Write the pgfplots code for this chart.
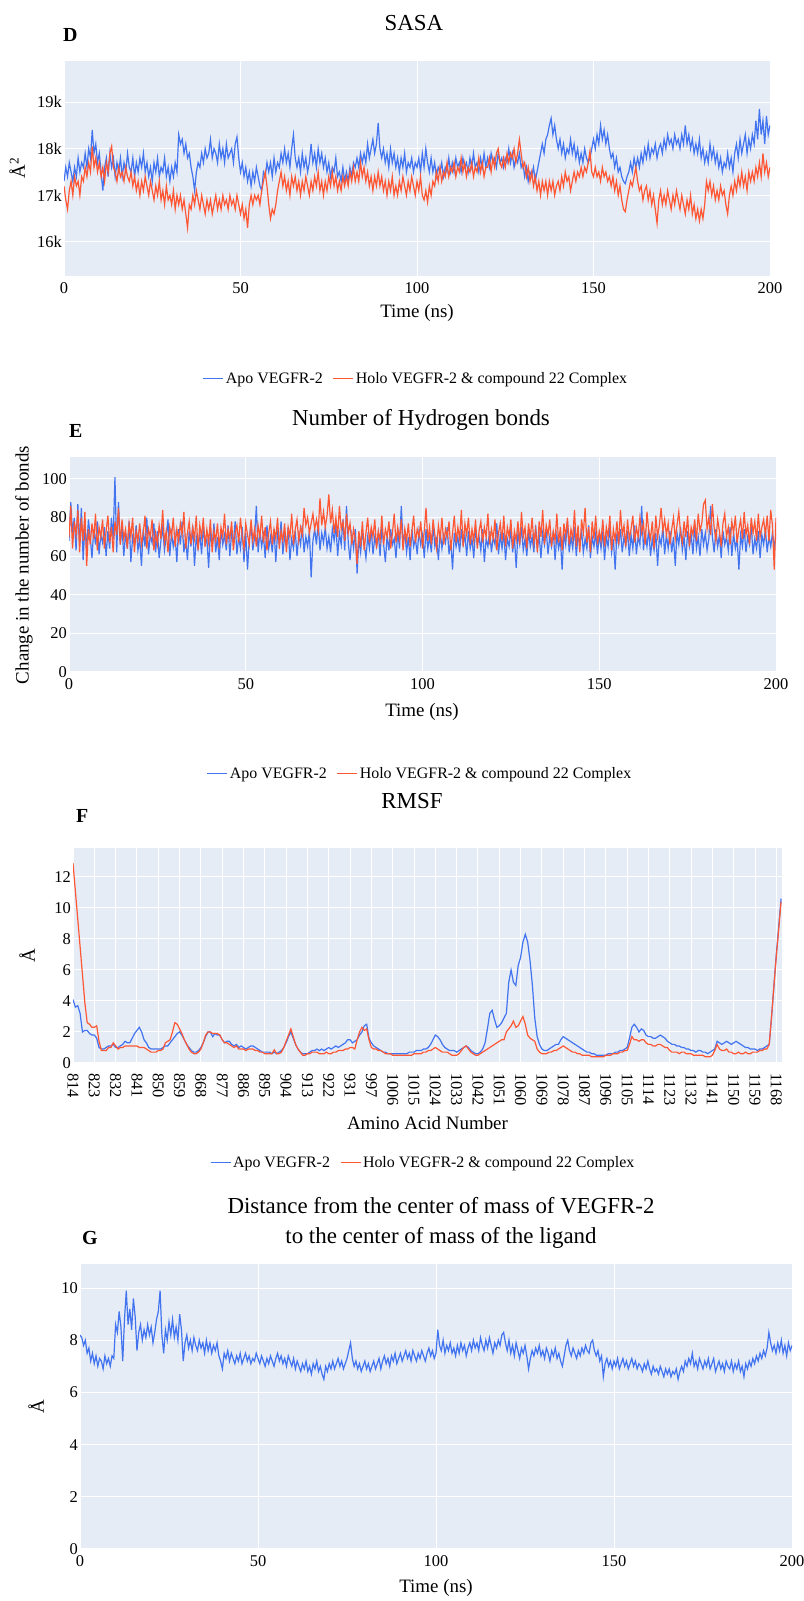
\documentclass[border=0pt]{standalone}
\usepackage{pgfplots}
\pgfplotsset{compat=1.18}
\usepackage{pgfplotstable}
\usepackage{fontspec}
\setmainfont{Liberation Serif}
\definecolor{apo}{RGB}{66,116,240}
\definecolor{holo}{RGB}{255,87,51}
\definecolor{plotbg}{RGB}{229,236,246}

% SASA (k A^2), t = 0..200 ns, step 0.5
\pgfplotstableread{
apo holo
17.3 17.2
17.6 16.9
17.4 16.7
17.7 17.1
17.5 17.3
17.3 17.0
17.6 17.4
17.4 17.2
17.8 17.3
17.5 17.0
17.7 17.4
17.6 17.3
17.9 17.6
17.6 17.4
18.0 17.7
17.8 17.5
18.4 18.05
17.9 17.6
18.1 17.8
17.7 17.5
17.9 17.7
17.5 17.4
17.1 17.6
17.6 17.3
17.8 17.7
17.4 17.5
17.9 17.9
17.6 18.05
17.8 17.6
17.4 17.5
17.7 17.3
17.5 17.6
17.8 17.4
17.4 17.5
17.7 17.3
17.5 17.6
17.9 17.4
17.6 17.3
17.5 17.5
17.8 17.2
17.4 17.4
17.7 17.1
17.5 17.3
17.8 17.0
17.6 17.3
17.9 17.1
17.5 17.4
17.7 17.2
17.4 17.0
17.6 17.3
17.3 17.1
17.7 16.9
17.5 17.2
17.8 17.0
17.4 17.3
17.6 16.9
17.5 17.1
17.8 16.8
17.4 17.2
17.6 16.9
17.3 17.0
17.6 16.8
17.4 17.1
17.7 16.7
17.5 17.0
18.3 16.8
18.1 17.0
18.2 16.7
17.9 16.9
18.1 16.6
17.8 16.3
17.9 16.8
17.6 16.7
17.4 17.0
17.1 16.8
17.5 17.1
17.7 16.9
17.6 16.7
17.9 17.0
17.7 16.8
18.0 16.6
17.8 16.9
17.9 16.7
18.2 16.9
17.8 16.6
18.0 16.8
17.9 17.0
17.7 16.7
18.1 16.9
17.8 16.7
18.0 17.0
17.7 16.8
18.1 16.9
17.8 16.7
17.9 17.0
18.0 16.8
17.7 16.9
18.1 16.7
18.25 17.0
17.8 16.8
17.5 16.6
17.7 16.8
17.4 16.5
17.6 16.7
17.3 16.3
17.5 16.8
17.2 17.0
17.5 16.8
17.3 17.0
17.6 16.9
17.4 17.0
17.2 16.8
17.1 17.1
17.5 17.3
17.4 17.5
17.7 17.2
17.5 16.8
17.7 16.5
17.4 16.7
17.8 16.6
17.5 16.8
17.7 17.1
17.6 17.3
17.9 17.5
17.7 17.2
18.0 17.4
17.7 17.1
17.9 17.3
17.6 17.0
18.0 17.4
18.3 17.2
17.8 17.4
17.6 17.1
17.8 17.3
17.5 17.0
17.9 17.3
17.6 17.1
17.8 17.4
17.5 17.2
17.7 17.0
18.1 17.3
17.7 17.1
17.9 17.4
17.6 17.2
18.0 17.5
17.7 17.1
17.9 17.3
17.6 17.0
17.8 17.3
17.5 17.1
17.7 17.4
17.4 17.2
17.6 17.5
17.5 17.2
17.8 17.4
17.4 17.1
17.5 17.3
17.3 17.1
17.6 17.4
17.3 17.2
17.5 17.4
17.3 17.2
17.6 17.5
17.4 17.3
17.7 17.6
17.6 17.3
17.8 17.5
17.6 17.3
17.9 17.7
17.7 17.4
17.9 17.6
17.7 17.3
18.1 17.5
17.8 17.2
18.0 17.4
18.2 17.1
17.9 17.4
18.1 17.2
18.55 17.5
18.0 17.2
17.8 17.4
18.0 17.1
17.7 17.3
17.9 17.0
17.6 17.3
18.0 17.1
17.7 17.4
17.9 17.0
17.6 17.2
17.8 17.0
17.5 17.3
17.8 17.1
17.6 17.4
17.9 17.2
17.5 17.0
17.7 17.3
17.6 17.1
17.8 17.4
17.5 17.2
17.7 17.0
17.6 17.3
17.8 17.1
17.5 17.4
17.9 17.0
17.6 16.9
18.0 17.1
17.7 16.85
17.5 17.2
17.8 17.0
17.5 17.3
17.7 17.2
17.4 17.5
17.6 17.3
17.5 17.6
17.7 17.3
17.4 17.5
17.6 17.4
17.5 17.7
17.8 17.4
17.5 17.6
17.7 17.5
17.5 17.7
17.8 17.4
17.6 17.6
17.7 17.5
17.5 17.8
17.8 17.5
17.6 17.7
17.7 17.4
17.5 17.6
17.8 17.5
17.6 17.7
17.9 17.4
17.6 17.6
17.7 17.5
17.5 17.8
17.8 17.5
17.6 17.7
17.9 17.4
17.6 17.6
17.8 17.6
17.6 17.8
17.9 17.5
17.7 17.8
17.8 17.6
17.6 17.9
17.9 18.0
17.7 17.7
17.8 17.6
17.6 17.8
17.8 17.6
17.7 17.9
18.0 17.7
17.7 17.9
17.9 17.8
17.6 18.0
17.8 17.7
17.7 17.9
17.9 18.2
17.6 17.9
17.7 17.6
17.4 17.7
17.6 17.4
17.3 17.6
17.5 17.3
17.4 17.5
17.6 17.2
17.3 17.4
17.5 17.1
17.7 17.3
17.9 17.0
18.1 17.3
17.9 17.1
18.2 17.3
18.3 17.0
18.5 17.3
18.65 17.1
18.3 17.3
18.5 17.0
18.2 17.2
18.0 17.3
18.2 17.1
17.9 17.4
18.1 17.2
17.8 17.5
18.0 17.3
17.9 17.4
18.2 17.1
17.9 17.3
18.1 17.5
17.8 17.3
18.0 17.5
17.7 17.4
17.9 17.6
17.7 17.4
18.0 17.6
17.8 17.5
17.7 17.7
17.8 17.95
18.0 17.5
18.2 17.4
18.0 17.6
18.3 17.4
18.1 17.5
18.5 17.3
18.2 17.6
18.4 17.4
18.1 17.5
18.3 17.3
18.0 17.4
17.8 17.2
17.9 17.4
17.6 17.1
17.8 17.3
17.5 17.0
17.6 17.2
17.4 16.9
17.3 16.7
17.25 16.65
17.4 16.9
17.5 17.1
17.7 17.3
17.5 17.2
17.8 17.4
17.6 17.6
17.8 17.3
17.6 17.1
17.9 17.2
17.7 16.9
18.0 17.1
17.8 17.2
18.1 16.9
17.8 17.1
18.0 16.8
17.9 17.0
18.1 16.7
17.8 16.4
18.0 16.9
18.1 17.1
17.9 16.8
18.2 17.0
18.0 16.8
18.3 17.1
18.1 16.9
18.2 16.7
18.0 17.0
18.3 16.8
18.1 17.1
18.2 16.9
18.0 16.7
18.3 17.0
18.1 16.8
18.5 16.6
18.1 16.9
18.3 16.7
18.0 17.0
18.2 16.6
17.9 16.8
18.1 16.5
17.9 16.7
18.2 16.45
17.8 16.7
18.0 16.5
17.7 16.8
17.9 17.3
17.7 17.1
18.1 17.3
17.8 17.0
18.0 17.2
17.7 16.9
17.9 17.1
17.6 16.9
17.8 17.2
17.5 17.0
17.7 17.1
17.6 16.8
17.9 16.6
17.6 17.0
17.8 17.2
17.5 17.0
17.9 17.3
18.1 17.1
17.8 17.4
18.2 17.2
17.9 17.5
18.1 17.2
18.3 17.4
17.9 17.1
18.2 17.5
18.0 17.3
18.3 17.5
18.1 17.3
18.6 17.6
18.2 17.4
18.85 17.7
18.3 17.4
18.6 17.9
18.1 17.5
18.7 17.7
18.3 17.4
18.5 17.6
}\tabD

% Hydrogen bonds, t = 0..200 ns, step 0.5
\pgfplotstableread{
apo holo
68 70
88 86
72 64
80 78
63 71
87 84
66 62
85 80
58 68
76 83
64 55
79 74
70 66
59 77
74 69
66 82
78 63
61 75
71 70
67 79
75 64
60 73
73 81
64 67
80 75
69 62
101 78
62 71
88 85
66 66
75 79
60 69
72 74
64 64
78 77
57 70
70 80
66 62
76 73
63 68
69 77
55 66
74 72
65 81
80 64
61 74
71 70
67 79
77 63
62 72
73 66
59 76
68 69
75 84
63 67
70 73
79 62
60 75
72 70
65 80
71 65
57 74
74 68
66 77
78 71
62 83
69 64
58 72
73 78
65 66
76 75
55 69
70 81
64 63
72 76
61 70
75 80
66 65
69 74
54 67
73 79
65 62
77 73
62 68
70 77
58 64
74 75
66 70
71 82
63 66
76 74
60 69
72 78
67 63
78 72
61 76
70 67
64 80
75 70
57 64
72 77
53 71
69 66
77 79
63 68
70 74
86 65
62 76
73 70
65 81
71 67
59 75
76 63
64 72
70 78
62 66
74 74
57 69
72 80
66 64
78 73
61 68
71 77
65 62
75 75
58 70
69 82
64 66
73 74
60 79
71 68
66 75
76 71
62 85
70 76
65 80
73 72
49 77
68 82
74 74
66 79
78 73
63 90
72 76
67 83
75 75
64 81
70 92
62 77
74 84
68 72
76 80
60 70
72 86
66 74
79 78
63 68
86 82
67 72
58 77
71 66
64 74
74 69
51 56
69 73
62 65
73 78
66 63
59 72
70 80
64 67
74 75
61 70
70 79
65 64
72 73
60 68
75 81
66 66
57 74
71 70
63 78
74 64
66 72
69 82
59 67
73 75
64 69
86 79
67 63
72 74
62 68
70 77
58 65
74 73
65 81
69 67
61 74
73 70
66 78
71 64
59 73
74 85
64 68
70 75
62 66
76 79
65 71
69 64
58 76
73 69
64 80
71 66
67 74
75 70
61 78
68 63
53 72
72 81
65 67
70 75
62 69
74 84
66 65
71 77
60 71
73 80
64 66
69 74
59 68
75 79
66 64
70 73
63 78
74 67
57 75
69 70
65 82
73 66
62 74
70 69
66 79
77 63
61 72
71 77
64 68
72 81
58 65
69 75
65 70
74 79
62 64
70 73
54 68
72 78
66 66
75 83
63 70
69 75
60 64
73 77
65 69
70 80
62 67
76 74
64 62
71 78
59 70
72 84
66 66
74 76
61 71
70 79
65 65
73 73
58 68
71 82
64 67
69 75
53 63
72 77
66 70
78 80
62 66
70 74
64 69
75 84
60 65
71 76
66 62
73 79
62 72
69 85
64 67
76 75
59 62
70 78
65 69
72 81
61 66
71 73
64 68
73 79
58 65
70 75
65 70
75 81
62 63
69 74
53 68
72 78
66 66
74 84
62 71
70 76
65 65
73 79
60 69
71 74
64 81
76 67
61 75
70 70
66 80
86 72
63 77
72 66
65 83
74 73
60 69
69 78
63 64
72 81
55 70
70 76
66 85
75 73
61 79
71 71
64 77
73 66
62 74
70 80
55 69
72 76
66 83
75 72
63 67
70 78
58 70
73 81
65 65
71 75
61 71
76 79
64 68
70 82
60 73
74 77
66 87
72 89
63 74
69 80
86 71
70 87
62 75
74 68
65 79
71 73
59 65
73 77
66 82
70 70
63 75
75 66
60 78
72 72
64 81
69 67
53 74
71 79
65 69
74 83
62 71
70 76
66 66
76 80
61 72
69 78
64 68
73 82
59 70
71 75
66 79
74 71
62 81
70 68
65 84
72 76
64 53
71 80
}\tabE

% RMSF (A), residue index 0..299
\pgfplotstableread{
apo holo
4.1 12.9
3.6 11.1
3.7 9.3
3.2 7.5
2.0 5.7
2.1 3.9
2.1 2.6
1.9 2.5
1.8 2.3
1.8 2.3
1.6 2.4
1.0 1.4
0.9 0.8
0.9 0.8
1.0 0.8
1.1 1.0
1.1 1.0
1.2 1.3
1.0 1.1
1.0 0.9
1.1 1.0
1.2 1.0
1.4 1.1
1.3 1.1
1.3 1.1
1.6 1.1
1.9 1.1
2.1 1.1
2.3 1.0
2.0 1.0
1.5 1.0
1.3 0.9
1.0 0.8
0.9 0.7
0.9 0.7
0.9 0.7
0.9 0.8
0.9 0.8
1.0 0.9
1.1 1.3
1.1 1.4
1.3 1.5
1.5 2.0
1.7 2.6
1.9 2.5
2.0 2.2
1.8 1.9
1.5 1.5
1.2 1.2
1.0 0.9
0.8 0.7
0.7 0.6
0.7 0.6
0.8 0.7
1.0 0.9
1.3 1.3
1.7 1.8
2.0 2.0
2.0 2.0
1.7 1.9
1.9 1.9
1.8 1.9
1.8 1.8
1.5 1.5
1.3 1.3
1.4 1.3
1.4 1.2
1.2 1.1
1.1 1.0
1.2 1.1
1.0 0.9
1.1 0.9
1.0 0.9
0.9 0.8
1.0 0.9
1.1 0.9
1.1 0.9
1.0 0.8
0.9 0.8
0.8 0.7
0.7 0.7
0.7 0.6
0.7 0.6
0.7 0.6
0.6 0.6
0.7 0.85
0.6 0.6
0.7 0.6
0.8 0.7
1.0 1.0
1.3 1.4
1.7 1.8
2.0 2.2
1.6 1.7
1.2 1.2
0.9 0.9
0.7 0.7
0.6 0.5
0.6 0.5
0.6 0.6
0.7 0.6
0.8 0.7
0.8 0.7
0.9 0.7
0.8 0.6
0.9 0.6
0.8 0.6
0.9 0.7
1.0 0.6
0.9 0.6
1.0 0.7
1.1 0.7
1.0 0.8
1.1 0.8
1.2 0.8
1.3 0.9
1.5 0.9
1.5 1.0
1.3 1.0
1.4 0.9
1.5 1.5
1.8 2.0
2.0 2.3
2.4 2.1
2.5 2.2
1.6 1.5
1.3 1.0
1.1 0.9
1.0 0.9
0.9 0.8
0.8 0.8
0.7 0.7
0.7 0.6
0.6 0.6
0.6 0.6
0.6 0.5
0.6 0.5
0.6 0.5
0.6 0.5
0.6 0.5
0.6 0.5
0.6 0.5
0.7 0.5
0.7 0.5
0.7 0.6
0.8 0.6
0.8 0.6
0.8 0.6
0.9 0.7
0.9 0.7
1.0 0.8
1.2 0.8
1.5 0.9
1.8 1.0
1.7 0.9
1.5 0.8
1.2 0.7
1.0 0.7
0.9 0.7
0.8 0.6
0.8 0.5
0.8 0.5
0.7 0.5
0.8 0.6
0.9 0.8
1.0 1.0
1.1 1.1
1.0 0.9
0.8 0.7
0.7 0.6
0.6 0.5
0.6 0.5
0.7 0.6
0.9 0.7
1.3 0.8
2.2 0.9
3.2 1.0
3.4 1.1
2.8 1.2
2.3 1.3
2.4 1.4
2.6 1.5
2.9 1.5
3.2 2.0
5.2 2.2
6.0 2.4
5.2 2.7
5.0 2.3
6.3 2.4
6.8 2.7
7.8 3.0
8.3 2.5
7.8 1.8
6.6 1.6
5.0 1.5
2.9 1.4
1.7 0.9
1.2 0.7
0.9 0.6
0.8 0.6
0.8 0.6
0.9 0.7
1.0 0.7
1.1 0.8
1.2 0.8
1.2 0.9
1.5 1.0
1.7 1.1
1.6 1.0
1.5 0.9
1.4 0.8
1.3 0.7
1.2 0.7
1.1 0.6
1.0 0.6
0.9 0.5
0.8 0.5
0.7 0.5
0.7 0.5
0.6 0.4
0.6 0.4
0.5 0.4
0.5 0.4
0.5 0.4
0.5 0.4
0.5 0.5
0.6 0.5
0.6 0.5
0.6 0.6
0.7 0.6
0.7 0.6
0.8 0.7
0.8 0.7
0.9 0.8
1.0 0.8
1.6 1.2
2.3 1.7
2.5 1.5
2.3 1.5
2.0 1.4
2.2 1.5
2.1 1.5
1.8 1.3
1.7 1.2
1.7 1.2
1.6 1.1
1.6 1.1
1.7 1.2
1.8 1.2
1.7 1.1
1.6 1.0
1.4 1.0
1.3 0.8
1.2 0.7
1.2 0.7
1.1 0.7
1.1 0.6
1.0 0.7
1.0 0.7
0.9 0.6
0.9 0.6
0.8 0.6
0.8 0.5
0.7 0.5
0.8 0.5
0.8 0.5
0.7 0.5
0.7 0.4
0.6 0.4
0.7 0.4
0.8 0.5
0.9 0.8
1.4 1.2
1.3 0.9
1.2 0.8
1.3 0.8
1.4 0.9
1.3 0.7
1.2 0.7
1.3 0.6
1.4 0.6
1.3 0.7
1.2 0.6
1.1 0.6
1.0 0.7
1.0 0.6
0.9 0.6
0.9 0.7
0.9 0.7
0.8 0.7
0.9 0.8
0.9 0.8
1.0 0.9
1.1 0.9
1.2 1.2
3.0 3.0
5.0 5.0
7.0 6.9
8.8 8.6
10.6 10.4
}\tabF

% COM distance (A), t = 0..200 ns, step 0.5
\pgfplotstableread{
d
8.2
8.1
7.8
8.0
7.5
7.7
7.2
7.5
7.1
7.4
7.0
7.3
7.2
6.9
7.4
7.1
7.3
7.0
7.4
7.3
8.6
8.3
9.1
8.5
7.2
8.8
9.9
8.6
9.2
8.4
9.6
8.9
7.6
8.3
8.6
8.0
8.4
8.1
8.6
8.2
8.5
7.9
8.3
8.8
9.1
9.9
8.2
7.5
8.4
8.0
8.7
8.2
8.8
8.1
8.5
8.0
9.0
8.4
7.2
7.9
8.2
7.7
8.0
7.6
8.1
7.8
7.6
8.0
7.7
7.9
7.5
8.0
7.6
7.9
7.5
7.8
7.6
7.9
7.4
7.2
6.9
7.5
7.3
7.6
7.2
7.5
7.3
7.1
7.4
7.2
7.5
7.1
7.3
7.5
7.2
7.4
7.1
7.3
7.2
7.5
7.3
7.1
7.4
7.2
7.0
7.3
7.1
7.4
7.2
7.0
7.3
7.5
7.2
7.4
7.1
7.3
7.0
7.4
7.2
7.0
7.3
6.9
7.2
7.0
6.8
7.1
6.9
7.2
6.8
7.0
6.7
7.1
6.9
7.2
6.8
7.0
6.7
6.5
7.0
6.8
7.1
6.9
7.2
6.9
7.1
7.3
7.0
7.2
6.9
7.1
7.3
7.6
7.9
7.3
7.0
7.2
6.9
7.1
6.8
7.0
7.2
6.9
7.1
6.8
7.0
7.2
6.9
7.1
7.3
6.9
7.2
7.4
7.1
7.3
7.0
7.4
7.2
7.5
7.1
7.3
7.5
7.2
7.4
7.6
7.3
7.5
7.2
7.6
7.4
7.2
7.5
7.3
7.6
7.4
7.2
7.5
7.7
7.4
7.6
7.3
7.5
8.4
7.8
7.6
8.0
7.5
7.8
7.6
7.9
7.5
7.7
7.4
7.8
7.5
7.9
7.6
7.8
7.4
7.7
7.9
7.6
8.0
7.7
7.9
7.6
8.1
7.8
7.6
8.0
7.7
8.1
7.8
7.5
7.9
7.7
8.0
7.8
8.2
8.3
7.9
7.6
8.0
7.5
7.8
7.4
7.9
7.6
7.3
7.7
7.5
7.8
7.4
6.9
7.3
7.6
7.4
7.7
7.5
7.8
7.4
7.6
7.3
7.7
7.5
7.2
7.6
7.4
7.7
7.3
7.5
7.2
7.0
7.4
7.8
8.0
7.6
7.4
7.7
7.5
7.3
7.6
7.4
7.7
7.5
7.8
7.6
7.5
7.9
8.0
7.6
7.4
7.6
7.2
7.4
6.6
7.1
7.3
7.0
7.2
6.9
7.2
7.0
7.3
6.9
7.1
7.3
7.0
7.2
6.9
7.1
7.3
7.0
7.2
6.9
7.1
7.0
6.8
7.1
6.9
7.2
6.9
6.7
7.0
6.8
6.9
6.7
7.0
6.8
6.6
6.9
6.7
6.9
6.6
6.8
6.7
6.9
6.5
6.8
7.0
6.8
7.2
7.0
7.3
7.1
7.5
7.0
7.2
6.9
7.3
7.1
6.9
7.2
7.0
7.3
6.9
7.1
7.3
6.8
7.0
7.2
6.9
7.1
6.8
7.2
7.0
6.9
7.2
6.8
7.1
6.9
7.2
6.8
7.0
6.6
7.1
6.9
7.2
7.0
7.3
7.1
7.4
7.2
7.5
7.3
7.6
7.4
7.7
8.3
7.9
7.6
7.8
7.5
7.9
7.6
8.0
7.5
7.8
7.4
7.9
7.6
7.8
}\tabG

\pgfplotsset{panel/.style={
  scale only axis,
  axis background/.style={fill=plotbg},
  axis line style={draw=none},
  tick style={draw=none},
  major tick length=0pt,
  grid=major,
  major grid style={white, line width=1bp},
  tick label style={font=\fontsize{16.5}{18}\selectfont, inner sep=0pt},
  xticklabel shift=6.5bp,
  yticklabel shift=2bp,
  /pgf/number format/assume math mode=true,
  legend style={draw=none, fill=none, font=\fontsize{16}{18}\selectfont,
    anchor=center, /tikz/every even column/.append style={column sep=8bp}},
  legend columns=2,
  legend image code/.code={\draw[#1, line width=1bp] (0bp,0bp) -- (20bp,0bp);},
}}

\begin{document}
\begin{tikzpicture}[x=1bp,y=1bp]
\useasboundingbox (0bp,0bp) rectangle (804bp,1601bp);

% ---------- D: SASA ----------
\begin{axis}[panel, at={(64bp,1325bp)}, anchor=south west, width=706bp, height=215bp,
  xmin=0, xmax=200, ymin=15.27, ymax=19.88,
  xtick={0,50,100,150,200},
  ytick={16,17,18,19}, yticklabels={16k,17k,18k,19k},
  legend style={at={(0.4986,-0.479)}}]
\addplot[apo, line width=1.2bp] table[x expr=\coordindex*0.5, y=apo] {\tabD};
\addlegendentry{Apo VEGFR-2}
\addplot[holo, line width=1.2bp] table[x expr=\coordindex*0.5, y=holo] {\tabD};
\addlegendentry{Holo VEGFR-2 \& compound 22 Complex}
\end{axis}

% ---------- E: H-bonds ----------
\begin{axis}[panel, at={(69bp,929bp)}, anchor=south west, width=707bp, height=215bp,
  xmin=0, xmax=200, ymin=0, ymax=111.4,
  xtick={0,50,100,150,200}, ytick={0,20,40,60,80,100},
  legend style={at={(0.4965,-0.474)}}]
\addplot[apo, line width=1.2bp] table[x expr=\coordindex*0.5, y=apo] {\tabE};
\addlegendentry{Apo VEGFR-2}
\addplot[holo, line width=1.2bp] table[x expr=\coordindex*0.5, y=holo] {\tabE};
\addlegendentry{Holo VEGFR-2 \& compound 22 Complex}
\end{axis}

% ---------- F: RMSF ----------
\begin{axis}[panel, at={(73bp,538bp)}, anchor=south west, width=709bp, height=215bp,
  xmin=0, xmax=299.4, ymin=0, ymax=13.87,
  xtick={0,9,...,297},
  xticklabels={814,823,832,841,850,859,868,877,886,895,904,913,922,931,997,1006,1015,1024,1033,1042,1051,1060,1069,1078,1087,1096,1105,1114,1123,1132,1141,1150,1159,1168},
  xticklabel style={rotate=-90, anchor=west},
  xticklabel shift=10bp,
  ytick={0,2,4,6,8,10,12},
  legend style={at={(0.494,-0.465)}}]
\addplot[apo, line width=1.2bp] table[x expr=\coordindex, y=apo] {\tabF};
\addlegendentry{Apo VEGFR-2}
\addplot[holo, line width=1.2bp] table[x expr=\coordindex, y=holo] {\tabF};
\addlegendentry{Holo VEGFR-2 \& compound 22 Complex}
\end{axis}

% ---------- G: COM distance ----------
\begin{axis}[panel, at={(80bp,52bp)}, anchor=south west, width=712bp, height=285bp,
  xmin=0, xmax=200, ymin=0, ymax=10.92,
  xtick={0,50,100,150,200}, ytick={0,2,4,6,8,10}]
\addplot[apo, line width=1.2bp] table[x expr=\coordindex*0.5, y=d] {\tabG};
\end{axis}

% ---------- titles, panel letters, axis labels ----------
\tikzset{ttl/.style={font=\fontsize{23}{30}\selectfont, align=center},
         lbl/.style={font=\fontsize{19}{22}\selectfont},
         let/.style={font=\fontsize{20}{24}\selectfont\bfseries, anchor=west, inner sep=0pt}}
\node[ttl] at (414bp,1578bp) {SASA};
\node[let] at (63bp,1566bp) {D};
\node[lbl] at (417bp,1288bp) {Time (ns)};
\node[lbl, rotate=90] at (17bp,1433bp) {Å\textsuperscript{2}};

\node[ttl] at (421bp,1181bp) {Number of Hydrogen bonds};
\node[let] at (69bp,1170bp) {E};
\node[lbl] at (422bp,889bp) {Time (ns)};
\node[lbl, rotate=90] at (24bp,1036bp) {Change in the number of bonds};

\node[ttl] at (412bp,800bp) {RMSF};
\node[let] at (76bp,785bp) {F};
\node[lbl] at (427.5bp,478bp) {Amino Acid Number};
\node[lbl, rotate=90] at (27bp,645.5bp) {Å};

\node[ttl] at (441bp,378bp) {Distance from the center of mass of VEGFR-2\\to the center of mass of the ligand};
\node[let] at (82bp,363bp) {G};
\node[lbl] at (436bp,13bp) {Time (ns)};
\node[lbl, rotate=90] at (36bp,194.5bp) {Å};
\end{tikzpicture}
\end{document}
